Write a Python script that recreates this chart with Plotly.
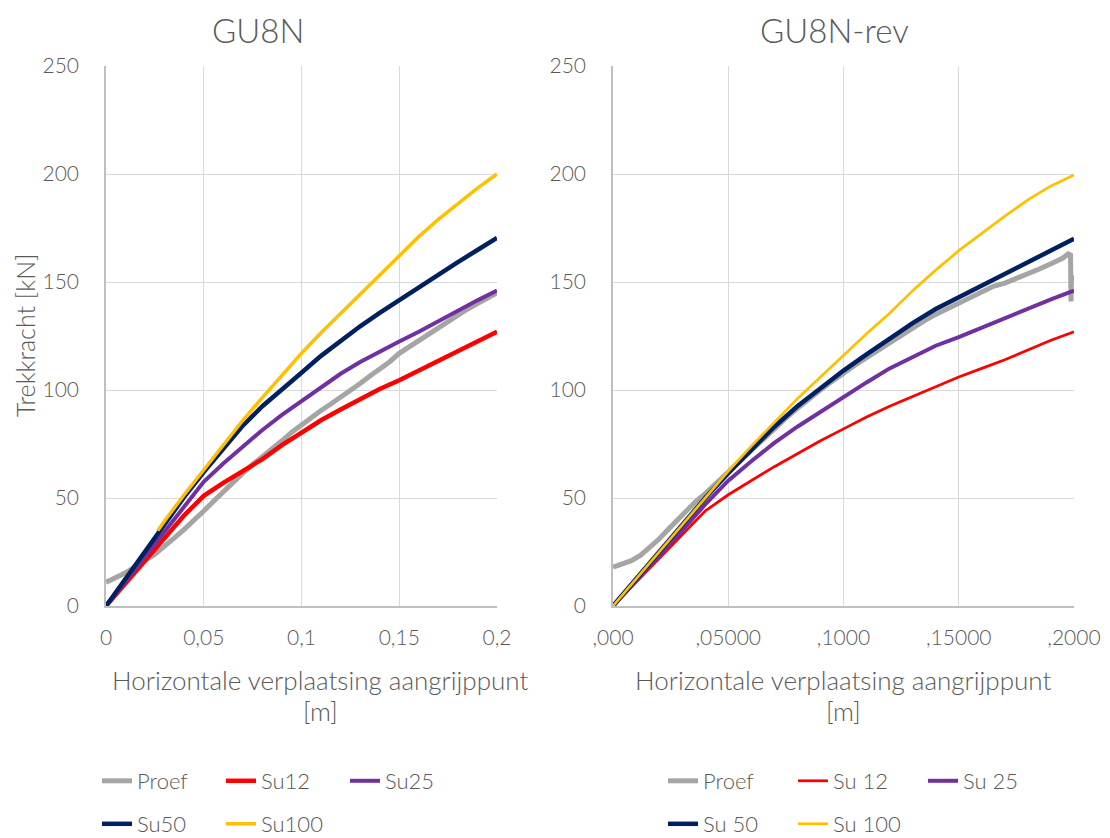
import plotly.graph_objects as go

# ---------------- data ----------------
x_tick_vals = [0, 0.05, 0.1, 0.15, 0.2]
x_tick_text_left = ["0", "0,05", "0,1", "0,15", "0,2"]
x_tick_text_right = [",000", ",05000", ",1000", ",15000", ",2000"]
y_tick_vals = [0, 50, 100, 150, 200, 250]

# Left chart: GU8N
l_proef_x = [0, .004, .008, .012, .016, .02, .025, .03, .035, .04, .045, .05, .055, .06, .065, .07,
             .075, .08, .085, .09, .095, .1, .105, .11, .115, .12, .125, .13, .135, .14, .145, .15,
             .155, .16, .165, .17, .175, .18, .185, .19, .195, .2]
l_proef_y = [11, 12.5, 14.5, 16.5, 18.5, 21, 24, 27.5, 31.5, 35.5, 39.5, 44, 48.5, 53, 57, 61.5,
             65.5, 69, 72.5, 76.5, 80.5, 84, 87, 90.5, 93.5, 96.5, 99.5, 103, 106.5, 109.5, 113, 117,
             120, 123, 126, 129, 132, 134.5, 137.5, 140, 142.5, 145]

l_su12_x = [0, .01, .02, .03, .035, .04, .045, .05, .06, .07, .08, .09, .1, .11, .12, .13, .14, .15,
            .16, .17, .18, .19, .2]
l_su12_y = [0, 10.5, 21, 31.5, 37, 42, 46.5, 51, 57, 62.5, 68, 74.5, 80.5, 86, 91, 96, 100.5, 104.5,
            109, 113.5, 118, 122.5, 127]

l_su25_x = [0, .01, .02, .03, .04, .05, .06, .07, .08, .09, .1, .11, .12, .13, .14, .15, .16, .17,
            .18, .19, .2]
l_su25_y = [0, 11.5, 23, 35, 46.5, 57.5, 66, 74, 81.5, 88.5, 95, 101.5, 107.5, 113, 118, 122.5, 127,
            132, 137, 141.5, 146]

l_su50_x = [0, .01, .02, .03, .04, .05, .06, .07, .08, .09, .1, .11, .12, .13, .14, .15, .16, .17,
            .18, .19, .2]
l_su50_y = [0, 12.5, 25.5, 38, 50.5, 62, 73, 83.5, 92.5, 100.5, 108, 115.8, 122.9, 129.5, 135.7,
            141.7, 147.7, 153.5, 159.2, 164.8, 170.4]

l_su100_x = [.0265, .03, .04, .05, .06, .07, .08, .09, .1, .11, .12, .13, .14, .15, .16, .17, .18,
             .19, .2]
l_su100_y = [35, 39.5, 51.5, 63, 74.5, 86, 96.5, 107, 117, 126.5, 135.5, 144.5, 153.5, 162.5, 171,
             179, 186.5, 193.5, 200]

# Right chart: GU8N-rev
r_proef_x = [0, .004, .008, .012, .016, .02, .024, .028, .032, .036, .04, .045, .05, .055, .06, .065,
             .07, .075, .08, .085, .09, .095, .1, .105, .11, .115, .12, .125, .13, .135, .14, .145,
             .15, .155, .16, .165, .17, .175, .18, .185, .19, .195, .1975, .1985, .1987, .1989, .2]
r_proef_y = [18, 19.5, 21, 23.5, 27, 31, 35.5, 40, 44.5, 48.5, 52, 57, 62, 67.5, 72.5, 77.5,
             82.5, 87, 91.5, 96, 100, 104, 108, 111.5, 115, 118.5, 122, 125.5, 129, 132, 135, 137.5,
             140.5, 143, 145.5, 148, 149.5, 151.5, 153.5, 156, 158.5, 161, 163, 162.5, 141, 152, 152]

r_su12_x = [0, .01, .02, .03, .04, .05, .06, .07, .08, .09, .1, .11, .12, .13, .14, .15, .16, .17,
            .18, .19, .2]
r_su12_y = [0, 11, 22, 33, 44, 51.5, 58, 64.5, 70.5, 76.5, 82, 87.5, 92.5, 97, 101.5, 106, 110,
            114, 118.5, 123, 127]

r_su25_x = [0, .01, .02, .03, .04, .05, .06, .07, .08, .09, .1, .11, .12, .13, .14, .15, .16, .17,
            .18, .19, .2]
r_su25_y = [0, 11.5, 23, 35, 47, 58, 67, 75.5, 83, 90, 97, 103.5, 110, 115.5, 120.5, 124.5, 129,
            133.5, 138, 142, 146]

r_su50_x = [0, .01, .02, .03, .04, .05, .06, .07, .08, .09, .1, .11, .12, .13, .14, .15, .16, .17,
            .18, .19, .2]
r_su50_y = [0, 12.5, 25, 37.5, 50, 61.5, 72.5, 83, 92.5, 101, 109, 116.5, 124, 131, 137.5, 143,
            148.5, 154, 159.5, 165, 170]

r_su100_x = [0, .01, .02, .03, .04, .05, .06, .07, .08, .09, .1, .11, .12, .13, .14, .15, .16, .17,
             .18, .19, .2]
r_su100_y = [0, 12.5, 25, 37.5, 50, 62.5, 74, 85, 96, 106, 116, 126, 135.5, 146, 155.5, 164.5,
             172.5, 180.5, 188, 194.5, 199.5]

# ---------------- style ----------------
FONT = "Lato, Liberation Sans, sans-serif"
FW = 300
TXT = "#595959"
GRAY, RED, PURPLE, NAVY, YELLOW = "#a5a5a5", "#ff0000", "#7030a0", "#002060", "#ffc000"

fig = go.Figure()


def add(x, y, name, color, width, xa, ya, legend):
    fig.add_trace(go.Scatter(x=x, y=y, name=name, mode="lines",
                             line=dict(color=color, width=width),
                             xaxis=xa, yaxis=ya, legend=legend, hoverinfo="skip"))


add(l_proef_x, l_proef_y, "Proef", GRAY, 5, "x", "y", "legend")
add(l_su12_x, l_su12_y, "Su12", RED, 4.5, "x", "y", "legend")
add(l_su25_x, l_su25_y, "Su25", PURPLE, 4, "x", "y", "legend")
add(l_su50_x, l_su50_y, "Su50", NAVY, 4.5, "x", "y", "legend2")
add(l_su100_x, l_su100_y, "Su100", YELLOW, 3.5, "x", "y", "legend2")

add(r_proef_x, r_proef_y, "Proef", GRAY, 5, "x2", "y2", "legend3")
add(r_su12_x, r_su12_y, "Su 12", RED, 2.75, "x2", "y2", "legend3")
add(r_su25_x, r_su25_y, "Su 25", PURPLE, 4, "x2", "y2", "legend3")
add(r_su50_x, r_su50_y, "Su 50", NAVY, 4.5, "x2", "y2", "legend4")
add(r_su100_x, r_su100_y, "Su 100", YELLOW, 2.75, "x2", "y2", "legend4")

# page body has an 8px margin; layout numbers below are in screen pixels
OFF = 8
W, H = 1102, 830
ML, MR, MT = 106 - OFF, 36, 66 - OFF
PLOT_BOTTOM = 606 - OFF
MB = H - PLOT_BOTTOM
PW = W - ML - MR
PH = H - MT - MB


def px_x(p):
    return (p - OFF - ML) / PW


def px_y(p):
    return (PLOT_BOTTOM - (p - OFF)) / PH


def f(size, family=FONT):
    return dict(family=family, size=size, color=TXT, weight=FW)


tickfont = f(21)
xcommon = dict(range=[0, 0.2], tickvals=x_tick_vals, showgrid=True, gridcolor="#d9d9d9",
               gridwidth=1.3, showline=True, linecolor="#bfbfbf", linewidth=1.5,
               zeroline=False, ticks="", tickfont=tickfont, ticklabelstandoff=12,
               fixedrange=True)
ycommon = dict(range=[0, 250], tickvals=y_tick_vals, showgrid=True, gridcolor="#d9d9d9",
               gridwidth=1.3, showline=True, linecolor="#bfbfbf", linewidth=1.5,
               zeroline=False, ticks="", tickfont=tickfont, ticklabelstandoff=21,
               fixedrange=True)

legend_common = dict(orientation="h", font=f(22),
                     bgcolor="rgba(0,0,0,0)", borderwidth=0, xanchor="left",
                     yanchor="middle", itemclick=False, itemdoubleclick=False)

fig.update_layout(
    width=W, height=H,
    margin=dict(l=ML, r=MR, t=MT, b=MB, autoexpand=False),
    paper_bgcolor="white", plot_bgcolor="white",
    font=dict(family=FONT, color=TXT),
    xaxis=dict(domain=[0, px_x(497)], ticktext=x_tick_text_left, anchor="y", **xcommon),
    yaxis=dict(domain=[0, 1], anchor="x", **ycommon),
    xaxis2=dict(domain=[px_x(613), 1], ticktext=x_tick_text_right, anchor="y2", **xcommon),
    yaxis2=dict(domain=[0, 1], anchor="x2", **ycommon),
    legend=dict(x=px_x(97), y=px_y(781), entrywidth=79, **legend_common),
    legend2=dict(x=px_x(97), y=px_y(824), entrywidth=79, **legend_common),
    legend3=dict(x=px_x(663), y=px_y(781), entrywidth=85, **legend_common),
    legend4=dict(x=px_x(663), y=px_y(824), entrywidth=85, **legend_common),
    showlegend=True,
)

ann = []
ann.append(dict(text="GU8N", x=px_x(258), y=px_y(30), xref="paper", yref="paper",
                showarrow=False, xanchor="center", yanchor="middle", font=f(33)))
ann.append(dict(text="GU8N-rev", x=px_x(834), y=px_y(30), xref="paper", yref="paper",
                showarrow=False, xanchor="center", yanchor="middle", font=f(33)))
for cx in (320, 843):
    ann.append(dict(text="Horizontale verplaatsing aangrijppunt", x=px_x(cx), y=px_y(680),
                    xref="paper", yref="paper", showarrow=False, xanchor="center",
                    yanchor="middle", font=f(26)))
    ann.append(dict(text="[m]", x=px_x(cx), y=px_y(711),
                    xref="paper", yref="paper", showarrow=False, xanchor="center",
                    yanchor="middle", font=f(26)))
ann.append(dict(text="Trekkracht [kN]", x=px_x(25), y=px_y(336), xref="paper", yref="paper",
                showarrow=False, xanchor="center", yanchor="middle", textangle=-90,
                font=f(25)))
fig.update_layout(annotations=ann)

fig.write_html("out.html")
